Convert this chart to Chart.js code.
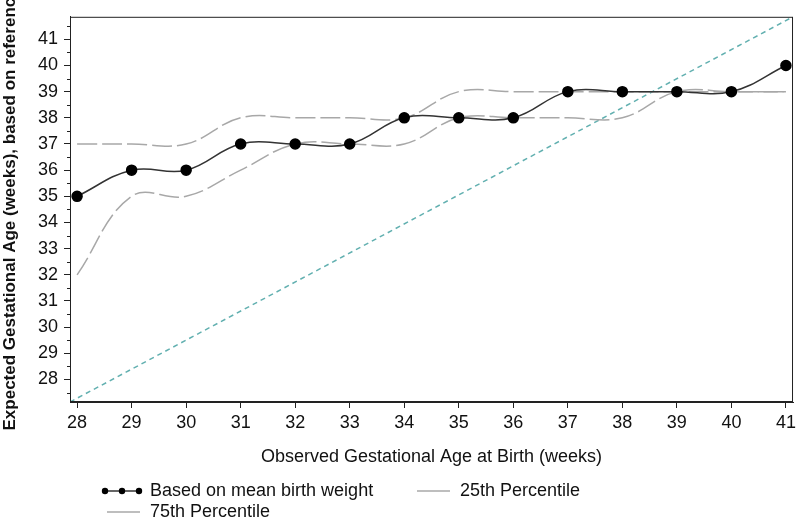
<!DOCTYPE html>
<html>
<head>
<meta charset="utf-8">
<script src="https://cdn.jsdelivr.net/npm/chart.js@4.4.1/dist/chart.umd.min.js"></script>
<style>
  html, body { margin: 0; padding: 0; background: #fff; }
  #wrap { width: 800px; height: 519px; }
</style>
</head>
<body>
<div id="wrap"><canvas id="c" width="800" height="519"></canvas></div>
<script>
// ---- data ----
const gestWeeks = [28, 29, 30, 31, 32, 33, 34, 35, 36, 37, 38, 39, 40, 41];
const meanBirthWeight = [35, 36, 36, 37, 37, 37, 38, 38, 38, 39, 39, 39, 39, 40];
const pct25 = [32, 35, 35, 36, 37, 37, 37, 38, 38, 38, 38, 39, 39, 39];
const pct75 = [37, 37, 37, 38, 38, 38, 38, 39, 39, 39, 39, 39, 39, 39];
const xRange = [27.87, 41.13];
const yRange = [27.14, 41.86];
const xTickValues = [28, 29, 30, 31, 32, 33, 34, 35, 36, 37, 38, 39, 40, 41];
const yTickValues = [28, 29, 30, 31, 32, 33, 34, 35, 36, 37, 38, 39, 40, 41];
const yMinorTickValues = [27.5, 28.5, 29.5, 30.5, 31.5, 32.5, 33.5, 34.5, 35.5, 36.5, 37.5, 38.5, 39.5, 40.5, 41.5];
const seriesLabels = ['Based on mean birth weight', '25th Percentile', '75th Percentile'];
const xTitle = 'Observed Gestational Age at Birth (weeks)';
const yTitle = 'Expected Gestational Age (weeks), based on reference';

const FONT = "'Liberation Sans', Arial, sans-serif";
const pts = (ys) => gestWeeks.map((x, i) => ({ x: x, y: ys[i] }));

const framePlugin = {
  id: 'frame',
  afterDraw(chart) {
    const { ctx, chartArea: a } = chart;
    const ys = chart.scales.y;
    ctx.save();
    ctx.strokeStyle = '#222';
    ctx.lineWidth = 1;
    ctx.strokeRect(a.left + 0.5, a.top + 0.5, a.right - a.left - 1, a.bottom - a.top - 1);
    yMinorTickValues.forEach(v => {
      if (v < yRange[0] || v > yRange[1]) return;
      const py = Math.round(ys.getPixelForValue(v)) + 0.5;
      ctx.beginPath();
      ctx.moveTo(a.left - 3, py);
      ctx.lineTo(a.left, py);
      ctx.stroke();
    });
    ctx.restore();
  }
};

const legendPlugin = {
  id: 'customLegend',
  afterDraw(chart) {
    const { ctx } = chart;
    const ds = chart.data.datasets;
    const items = [
      { i: 0, x0: 102, x1: 142, tx: 150, y: 491, dots: true },
      { i: 1, x0: 417, x1: 450, tx: 460, y: 491 },
      { i: 2, x0: 107, x1: 140, tx: 150, y: 512 }
    ];
    ctx.save();
    ctx.font = '18px ' + FONT;
    ctx.textBaseline = 'middle';
    ctx.textAlign = 'left';
    items.forEach(it => {
      const d = ds[it.i];
      ctx.strokeStyle = d.borderColor;
      ctx.lineWidth = 1.5;
      ctx.setLineDash([]);
      ctx.beginPath();
      ctx.moveTo(it.x0, it.y);
      ctx.lineTo(it.x1, it.y);
      ctx.stroke();
      if (it.dots) {
        ctx.fillStyle = '#000';
        [it.x0 + 3, (it.x0 + it.x1) / 2, it.x1 - 3].forEach(px => {
          ctx.beginPath();
          ctx.arc(px, it.y, 3.2, 0, Math.PI * 2);
          ctx.fill();
        });
      }
      ctx.fillStyle = '#111';
      ctx.fillText(d.label, it.tx, it.y);
    });
    ctx.restore();
  }
};

new Chart(document.getElementById('c'), {
  type: 'line',
  data: {
    datasets: [
      {
        label: seriesLabels[0],
        data: pts(meanBirthWeight),
        borderColor: '#333',
        borderWidth: 1.5,
        pointRadius: 5,
        pointBackgroundColor: '#000',
        pointBorderColor: '#000',
        tension: 0.4,
        order: 0
      },
      {
        label: seriesLabels[1],
        data: pts(pct25),
        borderColor: '#a8a8a8',
        borderWidth: 1.5,
        borderDash: [20, 5],
        pointRadius: 0,
        tension: 0.4,
        order: 1
      },
      {
        label: seriesLabels[2],
        data: pts(pct75),
        borderColor: '#a8a8a8',
        borderWidth: 1.5,
        borderDash: [20, 5],
        pointRadius: 0,
        tension: 0.4,
        order: 2
      },
      {
        label: 'reference',
        data: [{ x: xRange[0], y: yRange[0] }, { x: xRange[1], y: yRange[1] }],
        borderColor: '#62b0b0',
        borderWidth: 1.5,
        borderDash: [5, 4],
        pointRadius: 0,
        tension: 0,
        order: 3
      }
    ]
  },
  options: {
    responsive: false,
    animation: false,
    devicePixelRatio: 1,
    layout: { padding: { top: 8, right: 3, bottom: 47, left: 0 } },
    plugins: { legend: { display: false }, tooltip: { enabled: false } },
    scales: {
      x: {
        type: 'linear',
        min: xRange[0],
        max: xRange[1],
        afterBuildTicks: s => { s.ticks = xTickValues.map(v => ({ value: v })); },
        afterFit: s => { s.height = 70; },
        ticks: { font: { size: 18, family: FONT }, color: '#111', padding: 4, maxRotation: 0, autoSkip: false, callback: v => String(v) },
        grid: { drawOnChartArea: false, drawTicks: true, tickLength: 6, color: '#222' },
        border: { display: true, color: '#222' },
        title: { display: true, text: xTitle, font: { size: 18, family: FONT }, color: '#111', padding: { top: 4, bottom: 4 } }
      },
      y: {
        type: 'linear',
        min: yRange[0],
        max: yRange[1],
        afterBuildTicks: s => { s.ticks = yTickValues.map(v => ({ value: v })); },
        afterFit: s => { s.width = 70; },
        ticks: { font: { size: 18, family: FONT }, color: '#111', padding: 6, autoSkip: false, callback: v => String(v) },
        grid: { drawOnChartArea: false, drawTicks: true, tickLength: 6, color: '#222' },
        border: { display: true, color: '#222' },
        title: { display: true, text: yTitle, font: { size: 17, family: FONT, weight: 'bold' }, color: '#111', padding: { top: 0, bottom: 0 } }
      }
    }
  },
  plugins: [framePlugin, legendPlugin]
});
</script>
</body>
</html>
